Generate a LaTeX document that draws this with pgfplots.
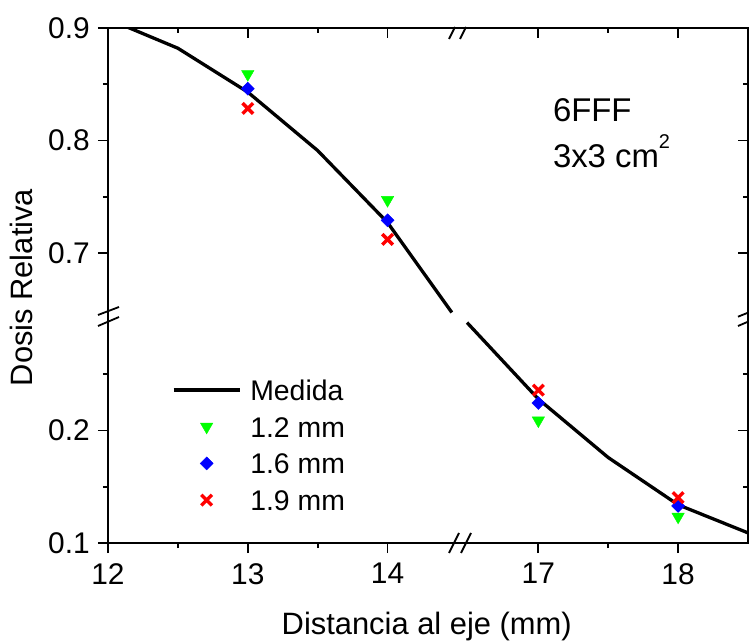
\documentclass[border=0pt]{standalone}
\usepackage{fontspec}
\setmainfont{Liberation Sans}
\usepackage{pgfplots}
\usepackage{pgfplotstable}
\pgfplotsset{compat=1.18}

% Medida, upper y segment (0.65-0.9), x in 12-14.5
\pgfplotstableread{
x y
12.0 0.908
12.5 0.882
13.0 0.843
13.5 0.791
14.0 0.727
14.46 0.647
}\medidaup
% Medida, lower y segment (0.1-0.3), x in 16.5-18.5
\pgfplotstableread{
x y
16.49 0.296
17.0 0.228
17.5 0.176
18.0 0.134
18.5 0.109
}\medidalow
\pgfplotstableread{
x g b r
13 0.859 0.846 0.8285
14 0.747 0.729 0.712
}\ptsup
\pgfplotstableread{
x g b r
17 0.209 0.2245 0.236
18 0.1234 0.133 0.1404
}\ptslow

% axis breaks: x 14.5..16.5 removed, y 0.3..0.65 removed
\def\xs{1.921}
\def\ys{0.342}

\pgfplotsset{
  common/.style={
    scale only axis, width=640bp, height=515bp,
    xmin=12, xmax=16.579, ymin=0.442, ymax=0.9,
    axis line style={line width=2bp},
    tick style={line width=1.8bp, black},
    major tick length=10bp, minor tick length=5bp,
    xtick={12,13,14,15.079,16.079},
    minor xtick={12.5,13.5,15.579},
    ytick={0.442,0.542,0.7,0.8,0.9},
    minor ytick={0.492,0.592,0.75,0.85},
  },
  gr/.style={only marks, mark=triangle*, mark size=7.2bp, color=green, mark options={rotate=180, fill=green, draw=green, line width=0.4bp}},
  bl/.style={only marks, mark=square*, mark size=4.6bp, color=blue, mark options={rotate=45, fill=blue, draw=blue, line width=0.4bp}},
  rd/.style={only marks, mark=x, mark size=7.5bp, color=red, mark options={line width=3.4bp}},
  md/.style={black, line width=3.3bp, no marks, line join=round},
}

\begin{document}
\begin{tikzpicture}
\begin{axis}[common, name=ax,
  tick align=outside, xtick pos=left, ytick pos=left,
  xticklabels={12,13,14,17,18},
  yticklabels={0.1,0.2,0.7,0.8,0.9},
  ticklabel style={font=\fontsize{30}{36}\selectfont},
  xticklabel style={anchor=north, inner sep=0pt, yshift=-10bp},
  yticklabel style={anchor=east, inner sep=0pt, xshift=-8bp},
  /pgf/number format/assume math mode=true,
  legend image code/.code={\draw[mark repeat=2,mark phase=2,#1] plot coordinates {(0bp,0bp) (33bp,0bp) (66bp,0bp)};},
  legend style={draw=none, fill=none, inner sep=0pt, outer sep=0pt,
    at={(rel axis cs:0.1,0.3175)}, anchor=north west,
    row sep=15.7bp, column sep=9bp,
    font=\fontsize{28.5}{34}\selectfont,
    nodes={inner sep=0pt, text height=21bp, text depth=0bp}},
  legend cell align=left,
]
\addplot[md] table[x=x, y=y] {\medidaup};
\addplot[gr] table[x=x, y=g] {\ptsup};
\addplot[bl] table[x=x, y=b] {\ptsup};
\addplot[rd] table[x=x, y=r] {\ptsup};
\addplot[md, forget plot] table[x expr=\thisrow{x}-\xs, y expr=\thisrow{y}+\ys] {\medidalow};
\addplot[gr, forget plot] table[x expr=\thisrow{x}-\xs, y expr=\thisrow{g}+\ys] {\ptslow};
\addplot[bl, forget plot] table[x expr=\thisrow{x}-\xs, y expr=\thisrow{b}+\ys] {\ptslow};
\addplot[rd, forget plot] table[x expr=\thisrow{x}-\xs, y expr=\thisrow{r}+\ys] {\ptslow};
\legend{Medida, 1.2 mm, 1.6 mm, 1.9 mm}
\node[anchor=base west, inner sep=0pt, font=\fontsize{33}{40}\selectfont] at (rel axis cs:0.695,0.8175) {6FFF};
\node[anchor=base west, inner sep=0pt, font=\fontsize{33}{40}\selectfont] at (rel axis cs:0.695,0.730) {3x3 cm\raisebox{0.55em}{\fontsize{20}{24}\selectfont 2}};
\coordinate (xbB) at (rel axis cs:0.55,0);
\coordinate (xbT) at (rel axis cs:0.55,1);
\coordinate (ybL) at (rel axis cs:0,0.4408);
\coordinate (ybR) at (rel axis cs:1,0.4408);
\coordinate (ylab) at (rel axis cs:0,0.496);
\coordinate (xlab) at (rel axis cs:0.498,0);
\end{axis}
\begin{axis}[common,
  tick align=inside, xtick pos=right, ytick pos=right,
  xticklabels={}, yticklabels={},
]
\end{axis}
% break marks
\begin{scope}[line width=1.8bp]
\draw ([xshift=-11bp,yshift=-10bp]xbB) -- ([xshift=-1bp,yshift=10bp]xbB);
\draw ([xshift=1bp,yshift=-10bp]xbB) -- ([xshift=11bp,yshift=10bp]xbB);
\draw ([xshift=-11bp,yshift=-11bp]xbT) -- ([xshift=-5bp,yshift=1bp]xbT);
\draw ([xshift=0bp,yshift=-11bp]xbT) -- ([xshift=6bp,yshift=1bp]xbT);
\draw ([xshift=-10bp,yshift=1bp]ybL) -- ([xshift=11bp,yshift=9bp]ybL);
\draw ([xshift=-10bp,yshift=-10bp]ybL) -- ([xshift=11bp,yshift=-1bp]ybL);
\draw ([xshift=-10bp,yshift=-0.7bp]ybR) -- ([xshift=0.8bp,yshift=3.6bp]ybR);
\draw ([xshift=-10bp,yshift=-10bp]ybR) -- ([xshift=0.8bp,yshift=-5.4bp]ybR);
\end{scope}
\node[rotate=90, anchor=base, inner sep=0pt, font=\fontsize{31}{36}\selectfont] at ([xshift=-75bp]ylab) {Dosis Relativa};
\node[anchor=base, inner sep=0pt, font=\fontsize{31}{36}\selectfont] at ([yshift=-91bp]xlab) {Distancia al eje (mm)};
\pgfresetboundingbox
\path ([xshift=-108bp,yshift=-98bp]ax.south west) rectangle ([xshift=1bp,yshift=28bp]ax.north east);
\end{tikzpicture}
\end{document}
